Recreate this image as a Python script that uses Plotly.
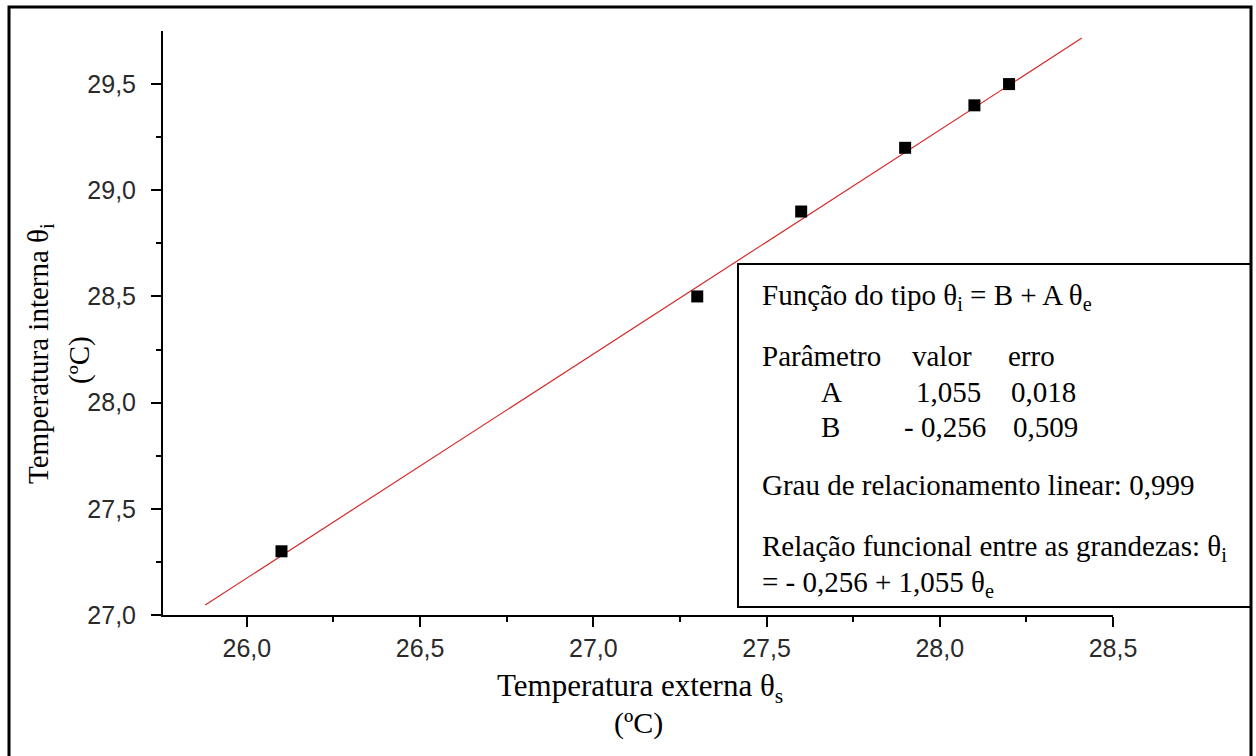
import plotly.graph_objects as go

# ---- data ----
temp_externa = [26.1, 27.3, 27.6, 27.9, 28.1, 28.2]
temp_interna = [27.3, 28.5, 28.9, 29.2, 29.4, 29.5]
param_A = 1.055
param_B = -0.256
fit_x = [25.88, 28.41]
fit_y = [param_B + param_A * v for v in fit_x]
x_ticks = [26.0, 26.5, 27.0, 27.5, 28.0, 28.5]
y_ticks = [27.0, 27.5, 28.0, 28.5, 29.0, 29.5]
x_minor = [26.25, 26.75, 27.25, 27.75, 28.25]
y_minor = [27.25, 27.75, 28.25, 28.75, 29.25]
x_range = [25.758, 28.5]
y_range = [27.0, 29.75]

W, H = 1256, 756
L, R, T, B = 163, 143, 31, 141
PW, PH = W - L - R, H - T - B


def px(x):
    return (x - L) / PW


def py(y):
    return (H - B - y) / PH


SERIF = "Liberation Serif, Times New Roman, serif"
SANS = "Liberation Sans, Arial, sans-serif"

fig = go.Figure()
fig.add_trace(go.Scatter(x=fit_x, y=fit_y, mode="lines",
                         line=dict(color="#d42a2a", width=1.2),
                         showlegend=False, hoverinfo="skip"))
fig.add_trace(go.Scatter(x=temp_externa, y=temp_interna, mode="markers",
                         marker=dict(symbol="square", size=12, color="black"),
                         showlegend=False))

axis_common = dict(
    showgrid=False, zeroline=False, showline=True, linecolor="black",
    linewidth=2, ticks="outside", ticklen=10, tickwidth=2, tickcolor="black",
    tickfont=dict(family=SANS, size=25, color="#2a2a2a"),
    tickformat=".1f",
)

fig.update_layout(
    xaxis=dict(range=x_range, tickvals=x_ticks, **axis_common),
    yaxis=dict(range=y_range, tickvals=y_ticks, ticklabelstandoff=10, **axis_common),
    # minor tick axes (ticks only)
    xaxis2=dict(range=x_range, overlaying="x", side="bottom", anchor="y",
                tickvals=x_minor, ticks="outside", ticklen=6, tickwidth=2,
                tickcolor="black", showticklabels=False, showline=False,
                showgrid=False, zeroline=False),
    yaxis2=dict(range=y_range, overlaying="y", side="left", anchor="x",
                tickvals=y_minor, ticks="outside", ticklen=6, tickwidth=2,
                tickcolor="black", showticklabels=False, showline=False,
                showgrid=False, zeroline=False),
)
# invisible trace to activate minor-tick axes
fig.add_trace(go.Scatter(x=[x_range[0]], y=[y_range[0]], xaxis="x2", yaxis="y2",
                         mode="markers", marker=dict(opacity=0), showlegend=False,
                         hoverinfo="skip"))

ann = []


def add_text(text, x, y, size=29, xanchor="left", angle=0, family=SERIF):
    ann.append(dict(text=text, x=px(x), y=py(y), xref="paper", yref="paper",
                    xanchor=xanchor, yanchor="middle", showarrow=False,
                    textangle=angle, font=dict(family=family, size=size, color="black")))


# axis titles
add_text("Temperatura externa θ<sub>s</sub>", 640, 688, size=31, xanchor="center")
add_text("(ºC)", 638, 723, size=30, xanchor="center")
add_text("Temperatura interna θ<sub>i</sub>", 40, 353, size=29, xanchor="center", angle=-90)
add_text("(ºC)", 79, 360, size=29, xanchor="center", angle=-90)

# text box content
add_text("Função do tipo θ<sub>i</sub> = B + A θ<sub>e</sub>", 760, 297)
add_text("Parâmetro", 760, 356)
add_text("valor", 910, 356)
add_text("erro", 1006, 356)
add_text("A", 819, 392)
add_text("1,055", 914, 392)
add_text("0,018", 1009, 392)
add_text("B", 819, 427)
add_text("- 0,256", 902, 427)
add_text("0,509", 1011, 427)
add_text("Grau de relacionamento linear: 0,999", 760, 485)
add_text("Relação funcional entre as grandezas: θ<sub>i</sub>", 760, 548)
add_text("= - 0,256 + 1,055 θ<sub>e</sub>", 760, 584)

shapes = [
    # text box
    dict(type="rect", xref="paper", yref="paper", x0=px(738), x1=px(1251),
         y0=py(607), y1=py(264), line=dict(color="black", width=2),
         fillcolor="white", layer="above"),
    # outer frame
    dict(type="rect", xref="paper", yref="paper", x0=px(9), x1=px(1251),
         y0=py(770), y1=py(7), line=dict(color="black", width=3)),
]

fig.update_layout(
    width=W, height=H, margin=dict(l=L, r=R, t=T, b=B),
    paper_bgcolor="white", plot_bgcolor="white",
    separators=",.", annotations=ann, shapes=shapes,
)

fig.write_html("out.html", config={"displayModeBar": False},
               post_script="document.body.style.margin='0';document.body.style.overflow='hidden';")
